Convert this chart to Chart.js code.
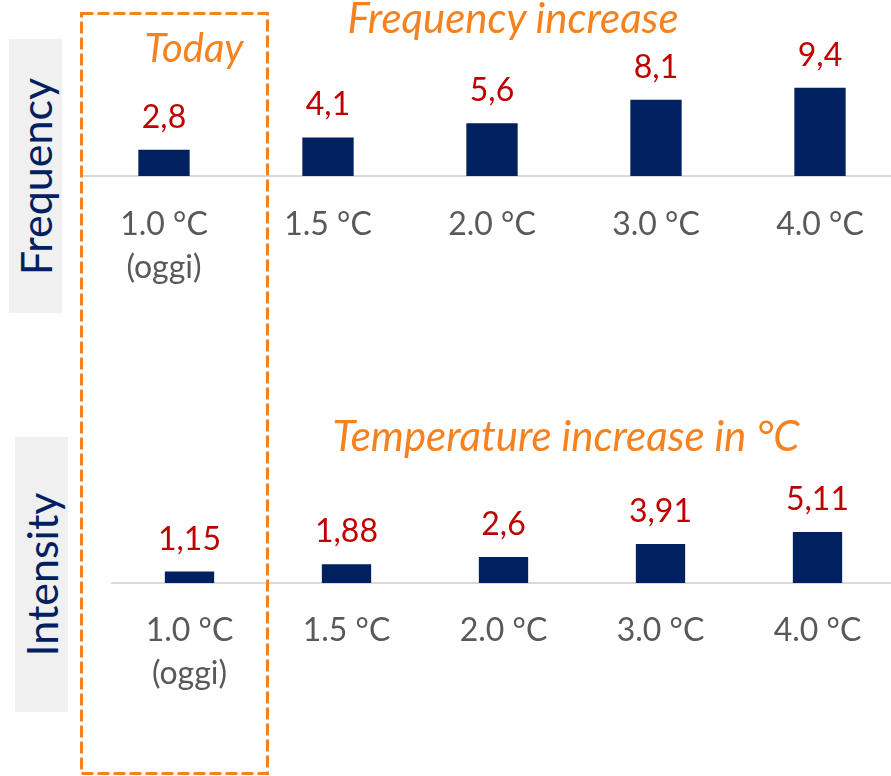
<!DOCTYPE html>
<html lang="it">
<head>
<meta charset="utf-8">
<title>Frequency and intensity by warming level</title>
<script src="https://cdn.jsdelivr.net/npm/chart.js@4.4.1/dist/chart.umd.min.js"></script>
<style>
  html, body { margin: 0; padding: 0; background: #ffffff; }
  body { width: 891px; height: 776px; overflow: hidden; position: relative; font-family: Lato, "Open Sans", sans-serif; }
  .abs { position: absolute; }
  .side {
    position: absolute; background: #F0F0F0;
    display: flex; align-items: center; justify-content: center;
  }
  .side span {
    display: block; white-space: nowrap; transform: rotate(-90deg);
    font-family: Lato, sans-serif; font-size: 43px; color: #002060; line-height: normal;
  }
  .title {
    position: absolute; text-align: center; white-space: nowrap;
    font-family: Lato, sans-serif; font-style: italic; font-size: 40px; line-height: 1;
    color: #F5821F;
  }
  .title.wide { font-size: 42px; }
  canvas { position: absolute; }
</style>
</head>
<body>

<div class="side" style="left:9px; top:39px; width:53px; height:274px;"><span>Frequency</span></div>
<div class="side" style="left:15px; top:437px; width:53px; height:275px;"><span>Intensity</span></div>

<canvas id="freqChart" width="820" height="300" style="left:82px; top:0px; width:820px; height:300px;"></canvas>
<canvas id="intChart" width="785" height="307" style="left:111px; top:400px; width:785px; height:307px;"></canvas>

<div class="title" style="left:94px; width:200px; top:27px;">Today</div>
<div class="title wide" style="left:313px; width:400px; top:-4px;">Frequency increase</div>
<div class="title wide" style="left:316px; width:500px; top:414px;">Temperature increase in °C</div>

<svg class="abs" style="left:0; top:0;" width="891" height="776">
  <rect x="81.5" y="13.5" width="186" height="760" fill="none" stroke="#F5821F" stroke-width="3" stroke-dasharray="12 4"/>
</svg>

<script>
// Warming levels shown on the category axis
const categories = [["1.0 °C", "(oggi)"], "1.5 °C", "2.0 °C", "3.0 °C", "4.0 °C"];
// Frequency multiplier of extreme events for each warming level
const frequencyValues = [2.8, 4.1, 5.6, 8.1, 9.4];
// Intensity increase in °C for each warming level
const intensityValues = [1.15, 1.88, 2.6, 3.91, 5.11];
// Upper bound of each value axis
const frequencyMax = 10;
const intensityMax = 8;

const BAR_COLOR = "#002060";
const LABEL_COLOR = "#C00000";
const TICK_COLOR = "#595959";

// Italian decimal comma
const fmt = v => String(v).replace(".", ",");

// Writes each bar's value above it
const valueLabels = {
  id: "valueLabels",
  afterDatasetsDraw(chart) {
    const ctx = chart.ctx;
    const ds = chart.data.datasets[0];
    const meta = chart.getDatasetMeta(0);
    ctx.save();
    ctx.font = "32px Lato";
    ctx.fillStyle = LABEL_COLOR;
    ctx.textAlign = "center";
    ctx.textBaseline = "alphabetic";
    meta.data.forEach((bar, i) => {
      ctx.fillText(fmt(ds.data[i]), bar.x, bar.y - 22);
    });
    ctx.restore();
  }
};

function makeChart(id, values, yMax, padTop, tickPad, barPct) {
  return new Chart(document.getElementById(id), {
    type: "bar",
    data: {
      labels: categories,
      datasets: [{
        data: values,
        backgroundColor: BAR_COLOR,
        borderWidth: 0,
        barPercentage: barPct,
        categoryPercentage: 1.0
      }]
    },
    options: {
      responsive: false,
      animation: false,
      events: [],
      layout: { padding: { top: padTop, left: 0, right: 0, bottom: 0 } },
      plugins: { legend: { display: false }, tooltip: { enabled: false } },
      scales: {
        x: {
          grid: { display: false, drawTicks: false },
          border: { display: true, color: "#D9D9D9", width: 2 },
          ticks: {
            color: TICK_COLOR,
            font: { family: "Lato", size: 32, lineHeight: 1.35 },
            padding: tickPad,
            maxRotation: 0,
            autoSkip: false
          },
          afterFit(scale) { scale.height = 124; }
        },
        y: {
          display: false,
          min: 0,
          max: yMax
        }
      }
    },
    plugins: [valueLabels]
  });
}

makeChart("freqChart", frequencyValues, frequencyMax, 82, 27, 0.313);
makeChart("intChart", intensityValues, intensityMax, 103, 26, 0.314);
</script>
</body>
</html>
